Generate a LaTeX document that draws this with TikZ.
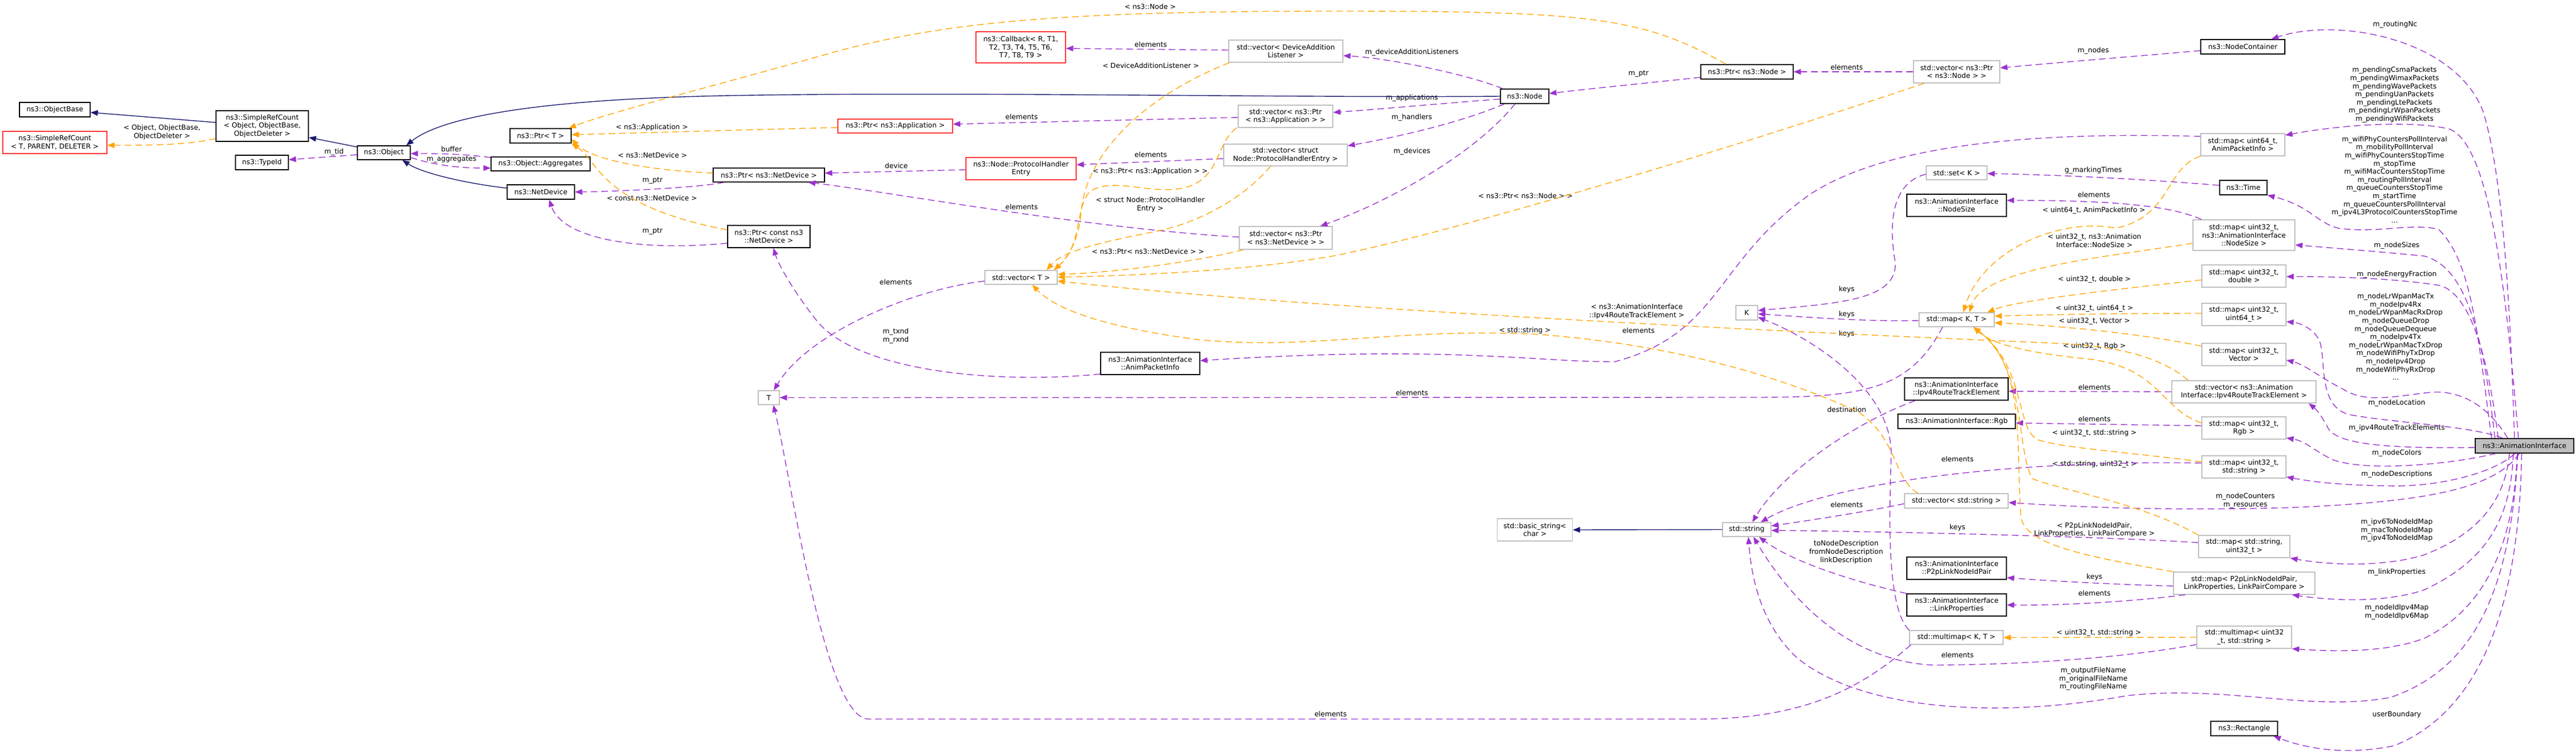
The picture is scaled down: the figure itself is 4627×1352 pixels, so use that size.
\documentclass[tikz,border=0pt]{standalone}
\usepackage{fontspec}
\setmainfont{DejaVu Sans}
\usetikzlibrary{arrows.meta}
\definecolor{navyc}{HTML}{191970}
\definecolor{purc}{HTML}{9A32CD}
\definecolor{orac}{HTML}{FFA500}
\definecolor{greyc}{HTML}{BFBFBF}
\definecolor{redc}{HTML}{FF3333}
\newcommand\nfnt{\fontsize{12.5}{14.6}\selectfont}
\newcommand\bx[6]{\node[#1, minimum width=#4pt, minimum height=#5pt] (#2) at (#3) {#6};}
\newcommand\lb[3]{\node[lbl] (#1) at (#2) {#3};}
\tikzset{
  nd/.style={draw, line width=1.4pt, inner sep=0pt, align=center, font=\nfnt},
  docbox/.style={nd, draw=black},
  extbox/.style={nd, draw=greyc},
  undocbox/.style={nd, draw=redc},
  mainbox/.style={nd, draw=black, fill=greyc},
  lbl/.style={inner sep=0pt, align=center, font=\nfnt},
  inh/.style={draw=navyc, line width=1.4pt, -{Triangle[length=13pt,width=10pt]}},
  usee/.style={draw=purc, line width=1.4pt, dash pattern=on 12pt off 7pt, -{Triangle[length=13pt,width=10pt]}},
  tpl/.style={draw=orac, line width=1.4pt, dash pattern=on 12pt off 7pt, -{Triangle[length=13pt,width=10pt]}}
}
\begin{document}
\begin{tikzpicture}[x=1pt,y=-1pt]
\fill[white] (0,0) rectangle (4627,1352);
\useasboundingbox (0,0) rectangle (4627,1352);
% ---------------- nodes
\bx{docbox}{objbase}{98.5,197}{127}{26}{ns3::ObjectBase}
\bx{undocbox}{srcT}{98.5,256}{187}{40}{ns3::SimpleRefCount\\< T, PARENT, DELETER >}
\bx{docbox}{srcO}{471,226.5}{166}{55}{ns3::SimpleRefCount\\< Object, ObjectBase,\\ObjectDeleter >}
\bx{docbox}{typeid}{470.5,292}{95}{26}{ns3::TypeId}
\bx{docbox}{object}{689.5,274.5}{95}{25}{ns3::Object}
\bx{docbox}{ptrT}{971,244}{110}{26}{ns3::Ptr< T >}
\bx{docbox}{aggr}{971,294.5}{178}{25}{ns3::Object::Aggregates}
\bx{docbox}{netdev}{971.5,345}{121}{26}{ns3::NetDevice}
\bx{docbox}{ptrnd}{1381,314.5}{200}{25}{ns3::Ptr< ns3::NetDevice >}
\bx{docbox}{ptrcnd}{1381,425}{148}{40}{ns3::Ptr< const ns3\\::NetDevice >}
\bx{undocbox}{ptrapp}{1608,226.5}{206}{25}{ns3::Ptr< ns3::Application >}
\bx{undocbox}{callback}{1833.5,85}{161}{56}{ns3::Callback< R, T1,\\T2, T3, T4, T5, T6,\\T7, T8, T9 >}
\bx{undocbox}{phe}{1834,303}{198}{40}{ns3::Node::ProtocolHandler\\Entry}
\bx{extbox}{vecT}{1834,498.5}{130}{25}{std::vector< T >}
\bx{extbox}{tnode}{1381,714.5}{38}{25}{T}
\bx{docbox}{api}{2066,653}{178}{40}{ns3::AnimationInterface\\::AnimPacketInfo}
\bx{extbox}{vecdal}{2309.5,92}{205}{40}{std::vector< DeviceAddition\\Listener >}
\bx{extbox}{vecapp}{2309,209}{170}{40}{std::vector< ns3::Ptr\\< ns3::Application > >}
\bx{extbox}{vecphe}{2309,278.5}{222}{39}{std::vector< struct\\Node::ProtocolHandlerEntry >}
\bx{extbox}{vecnd}{2309.5,427.5}{167}{41}{std::vector< ns3::Ptr\\< ns3::NetDevice > >}
\bx{docbox}{nnode}{2738.5,173}{87}{26}{ns3::Node}
\bx{docbox}{ptrnode}{3138,129}{166}{26}{ns3::Ptr< ns3::Node >}
\bx{extbox}{vecnode}{3514.5,129}{155}{40}{std::vector< ns3::Ptr\\< ns3::Node > >}
\bx{extbox}{setk}{3514.5,310.5}{109}{25}{std::set< K >}
\bx{docbox}{nodesize}{3514.5,369}{179}{40}{ns3::AnimationInterface\\::NodeSize}
\bx{extbox}{mapKT}{3514.5,574.5}{135}{25}{std::map< K, T >}
\bx{extbox}{knode}{3137.5,562}{39}{26}{K}
\bx{docbox}{ipv4rte}{3514,699}{186}{40}{ns3::AnimationInterface\\::Ipv4RouteTrackElement}
\bx{docbox}{rgb}{3514.5,757}{211}{26}{ns3::AnimationInterface::Rgb}
\bx{extbox}{vecstr}{3514,900}{186}{26}{std::vector< std::string >}
\bx{extbox}{strn}{3137.5,951.5}{87}{25}{std::string}
\bx{extbox}{basicstr}{2757,952}{135}{40}{std::basic\_string<\\char >}
\bx{docbox}{p2ppair}{3514.5,1021}{179}{40}{ns3::AnimationInterface\\::P2pLinkNodeIdPair}
\bx{docbox}{linkprop}{3514.5,1087}{179}{40}{ns3::AnimationInterface\\::LinkProperties}
\bx{extbox}{multimapKT}{3514,1145.5}{168}{25}{std::multimap< K, T >}
\bx{docbox}{nodecont}{4028.5,84}{151}{26}{ns3::NodeContainer}
\bx{extbox}{map64}{4028.5,260}{151}{40}{std::map< uint64\_t,\\AnimPacketInfo >}
\bx{docbox}{tim}{4029.5,337}{85}{26}{ns3::Time}
\bx{extbox}{mapNS}{4030.5,422.5}{183}{55}{std::map< uint32\_t,\\ns3::AnimationInterface\\::NodeSize >}
\bx{extbox}{mapdbl}{4030.5,496}{151}{40}{std::map< uint32\_t,\\double >}
\bx{extbox}{map64b}{4030.5,565}{151}{40}{std::map< uint32\_t,\\uint64\_t >}
\bx{extbox}{mapvec}{4030.5,637}{151}{40}{std::map< uint32\_t,\\Vector >}
\bx{extbox}{vecrte}{4030.5,704}{259}{40}{std::vector< ns3::Animation\\Interface::Ipv4RouteTrackElement >}
\bx{extbox}{maprgb}{4030.5,769}{151}{40}{std::map< uint32\_t,\\Rgb >}
\bx{extbox}{mapstr}{4030.5,839}{151}{40}{std::map< uint32\_t,\\std::string >}
\bx{extbox}{mapstru}{4031,982}{164}{40}{std::map< std::string,\\uint32\_t >}
\bx{extbox}{mapp2p}{4031,1048}{254}{40}{std::map< P2pLinkNodeIdPair,\\LinkProperties, LinkPairCompare >}
\bx{extbox}{mmapstr}{4031,1145}{170}{40}{std::multimap< uint32\\\_t, std::string >}
\bx{docbox}{rect}{4031,1309}{120}{26}{ns3::Rectangle}
\bx{mainbox}{ai}{4534.5,801}{177}{26}{ns3::AnimationInterface}
% ---------------- labels
\lb{l1}{291,237.5}{< Object, ObjectBase,\\ObjectDeleter >}
\lb{l2}{600,273}{m\_tid}
\lb{l3}{811,268}{buffer}
\lb{l4}{811,287}{m\_aggregates}
\lb{l5}{1171,229}{< ns3::Application >}
\lb{l6}{1172,279}{< ns3::NetDevice >}
\lb{l7}{1172,325}{m\_ptr}
\lb{l8}{1171,356}{< const ns3::NetDevice >}
\lb{l9}{1172,416}{m\_ptr}
\lb{l10}{2066,12}{< ns3::Node >}
\lb{l11}{2067,80}{elements}
\lb{l12}{2067,118}{< DeviceAdditionListener >}
\lb{l13}{1835,210}{elements}
\lb{l14}{2067,278}{elements}
\lb{l15}{1610,298}{device}
\lb{l16}{2066,308}{< ns3::Ptr< ns3::Application > >}
\lb{l17}{2066,367.5}{< struct Node::ProtocolHandler\\Entry >}
\lb{l18}{1835,372}{elements}
\lb{l19}{2062,452}{< ns3::Ptr< ns3::NetDevice > >}
\lb{l20}{1609,507}{elements}
\lb{l21}{1609,603.5}{m\_txnd\\m\_rxnd}
\lb{l22}{2536,94}{m\_deviceAdditionListeners}
\lb{l23}{2536,176}{m\_applications}
\lb{l24}{2536,211}{m\_handlers}
\lb{l25}{2536,272}{m\_devices}
\lb{l26}{2943,133}{m\_ptr}
\lb{l27}{2740,352}{< ns3::Ptr< ns3::Node > >}
\lb{l28}{3317,121}{elements}
\lb{l29}{3760,91}{m\_nodes}
\lb{l30}{3760,306}{g\_markingTimes}
\lb{l31}{3761,350}{elements}
\lb{l32}{3761,378}{< uint64\_t, AnimPacketInfo >}
\lb{l33}{3762,432.5}{< uint32\_t, ns3::Animation\\Interface::NodeSize >}
\lb{l34}{3762,502}{< uint32\_t, double >}
\lb{l35}{3762,554}{< uint32\_t, uint64\_t >}
\lb{l36}{3762,577}{< uint32\_t, Vector >}
\lb{l37}{3762,622}{< uint32\_t, Rgb >}
\lb{l38}{3762,696}{elements}
\lb{l39}{3762,753}{elements}
\lb{l40}{3762,778}{< uint32\_t, std::string >}
\lb{l41}{3516,825}{elements}
\lb{l42}{3762,834}{< std::string, uint32\_t >}
\lb{l43}{3317,520}{keys}
\lb{l44}{3317,565}{keys}
\lb{l45}{3317,600}{keys}
\lb{l46}{2940,559.5}{< ns3::AnimationInterface\\::Ipv4RouteTrackElement >}
\lb{l47}{2943,594}{elements}
\lb{l48}{2739,594}{< std::string >}
\lb{l49}{3317,736}{destination}
\lb{l50}{2536,706}{elements}
\lb{l51}{3317,907}{elements}
\lb{l52}{3516,948}{keys}
\lb{l53}{3762,952}{< P2pLinkNodeIdPair,\\LinkProperties, LinkPairCompare >}
\lb{l54}{3316,992}{toNodeDescription\\fromNodeDescription\\linkDescription}
\lb{l55}{3762,1037}{keys}
\lb{l56}{3762,1066}{elements}
\lb{l57}{3770,1137}{< uint32\_t, std::string >}
\lb{l58}{3516,1177}{elements}
\lb{l59}{3760,1220}{m\_outputFileName\\m\_originalFileName\\m\_routingFileName}
\lb{l60}{2390,1283}{elements}
\lb{l61}{4302,44}{m\_routingNc}
\lb{l62}{4301,170.5}{m\_pendingCsmaPackets\\m\_pendingWimaxPackets\\m\_pendingWavePackets\\m\_pendingUanPackets\\m\_pendingLtePackets\\m\_pendingLrWpanPackets\\m\_pendingWifiPackets}
\lb{l63}{4301,322.5}{m\_wifiPhyCountersPollInterval\\m\_mobilityPollInterval\\m\_wifiPhyCountersStopTime\\m\_stopTime\\m\_wifiMacCountersStopTime\\m\_routingPollInterval\\m\_queueCountersStopTime\\m\_startTime\\m\_queueCountersPollInterval\\m\_ipv4L3ProtocolCountersStopTime\\...}
\lb{l64}{4305,441}{m\_nodeSizes}
\lb{l65}{4305,493}{m\_nodeEnergyFraction}
\lb{l66}{4303,605}{m\_nodeLrWpanMacTx\\m\_nodeIpv4Rx\\m\_nodeLrWpanMacRxDrop\\m\_nodeQueueDrop\\m\_nodeQueueDequeue\\m\_nodeIpv4Tx\\m\_nodeLrWpanMacTxDrop\\m\_nodeWifiPhyTxDrop\\m\_nodeIpv4Drop\\m\_nodeWifiPhyRxDrop\\...}
\lb{l67}{4305,724}{m\_nodeLocation}
\lb{l68}{4305,769}{m\_ipv4RouteTrackElements}
\lb{l69}{4305,814}{m\_nodeColors}
\lb{l70}{4305,852}{m\_nodeDescriptions}
\lb{l71}{4033,899.5}{m\_nodeCounters\\m\_resources}
\lb{l72}{4305,953}{m\_ipv6ToNodeIdMap\\m\_macToNodeIdMap\\m\_ipv4ToNodeIdMap}
\lb{l73}{4305,1028}{m\_linkProperties}
\lb{l74}{4305,1100}{m\_nodeIdIpv4Map\\m\_nodeIdIpv6Map}
\lb{l75}{4305,1284}{userBoundary}
% ---------------- inheritance
\draw[inh] (srcO.west |- 0,220) -- (objbase.east |- 0,202);
\draw[inh] (object.west |- 0,264) -- (srcO.east |- 0,247);
\draw[inh] (nnode.west) .. controls (2300,176) and (1700,164) .. (1300,172) .. controls (1000,178) and (800,205) .. ([xshift=-8pt]object.north east);
\draw[inh] (netdev.west |- 0,338) .. controls (840,330) and (760,312) .. ([xshift=-15pt]object.south east);
\draw[inh] (strn.west) -- (basicstr.east);
% ---------------- usage
\draw[usee] (object.west |- 0,278) -- (typeid.east |- 0,287);
\draw[usee] (aggr.west |- 0,283) .. controls (830,276) and (780,276) .. (object.east |- 0,276);
\draw[usee] (object.east |- 0,283) .. controls (790,300) and (840,302) .. (aggr.west |- 0,302);
\draw[usee] ([xshift=20pt]ptrnd.south west) .. controls (1250,338) and (1100,344) .. (netdev.east);
\draw[usee] (ptrcnd.west |- 0,437) .. controls (1150,452) and (1010,430) .. ([xshift=15pt]netdev.south);
\draw[usee] (phe.west |- 0,305) -- (ptrnd.east |- 0,311);
\draw[usee] (vecnd.west |- 0,426) .. controls (1950,410) and (1600,345) .. ([xshift=-30pt]ptrnd.south east);
\draw[usee] (vecdal.west |- 0,90) -- (callback.east |- 0,87);
\draw[usee] (vecapp.west |- 0,211) -- (ptrapp.east |- 0,223);
\draw[usee] (vecphe.west |- 0,285) -- (phe.east |- 0,296);
\draw[usee] ([xshift=5pt]nnode.north west) .. controls (2640,135) and (2500,105) .. (vecdal.east |- 0,100);
\draw[usee] (nnode.west |- 0,178) .. controls (2600,185) and (2480,196) .. (vecapp.east |- 0,202);
\draw[usee] ([xshift=8pt]nnode.south west) .. controls (2620,222) and (2500,248) .. (vecphe.east |- 0,262);
\draw[usee] ([xshift=27pt]nnode.south west) .. controls (2650,275) and (2500,360) .. ([xshift=62pt]vecnd.north);
\draw[usee] (ptrnode.west |- 0,139) .. controls (2950,150) and (2850,160) .. (nnode.east |- 0,168);
\draw[usee] (vecnode.west) -- (ptrnode.east);
\draw[usee] (nodecont.west |- 0,91) .. controls (3850,100) and (3700,112) .. (vecnode.east |- 0,122);
\draw[usee] (tim.west |- 0,333) .. controls (3850,322) and (3700,314) .. (setk.east |- 0,312);
\draw[usee] (setk.west |- 0,313) .. controls (3390,330) and (3395,420) .. (3404,470) .. controls (3410,540) and (3300,545) .. (knode.east |- 0,558);
\draw[usee] (mapKT.west |- 0,576) .. controls (3350,578) and (3250,570) .. (knode.east |- 0,564);
\draw[usee] (multimapKT.north west) .. controls (3385,1090) and (3395,900) .. (3397,813) .. controls (3395,700) and (3260,610) .. (knode.east |- 0,570);
\draw[usee] ([xshift=16pt]mapNS.north west) .. controls (3900,370) and (3800,360) .. (nodesize.east |- 0,360);
\draw[usee] (map64.west |- 0,245) .. controls (3700,238) and (3400,250) .. (3250,350) .. controls (3080,470) and (3090,600) .. (2900,650) .. controls (2750,650) and (2600,620) .. (api.east |- 0,648);
\draw[usee] ([xshift=20pt]ipv4rte.south west) .. controls (3330,760) and (3200,850) .. ([xshift=10pt]strn.north);
\draw[usee] (mapstr.west |- 0,832) .. controls (3600,826) and (3280,870) .. ([xshift=25pt]strn.north);
\draw[usee] (vecstr.west |- 0,905) .. controls (3350,920) and (3250,935) .. (strn.east |- 0,945);
\draw[usee] (mapstru.west |- 0,975) .. controls (3800,965) and (3400,955) .. (strn.east |- 0,953);
\draw[usee] (linkprop.north west) .. controls (3330,1045) and (3220,1010) .. ([xshift=22pt]strn.south);
\draw[usee] ([xshift=-12pt]ai.south) .. controls (4510,1050) and (4450,1200) .. (4294,1253) .. controls (4150,1280) and (4000,1230) .. (3820,1250) .. controls (3600,1290) and (3350,1280) .. (3229,1183) .. controls (3160,1120) and (3145,1030) .. ([xshift=3pt]strn.south);
\draw[usee] (mmapstr.west |- 0,1158) .. controls (3800,1185) and (3600,1195) .. (3470,1195) .. controls (3300,1185) and (3200,1050) .. ([xshift=12pt]strn.south);
\draw[usee] ([xshift=43pt]mapKT.south west) .. controls (3430,700) and (3350,714) .. (3150,714) -- (tnode.east);
\draw[usee] ([xshift=3pt]multimapKT.south west) .. controls (3350,1230) and (3250,1292) .. (3050,1292) -- (1560,1292) .. controls (1480,1292) and (1420,850) .. ([xshift=8pt]tnode.south);
\draw[usee] (vecT.west |- 0,505) .. controls (1636,520) and (1450,600) .. ([xshift=9pt]tnode.north);
\draw[usee] (api.west |- 0,672) .. controls (1800,690) and (1550,670) .. (1470,580) .. controls (1430,530) and (1400,480) .. ([xshift=8pt]ptrcnd.south);
\draw[usee] (vecrte.west) -- (ipv4rte.east |- 0,703);
\draw[usee] (maprgb.west |- 0,765) -- (rgb.east |- 0,760);
\draw[usee] (mapp2p.west |- 0,1053) .. controls (3800,1050) and (3700,1045) .. (p2ppair.east |- 0,1038);
\draw[usee] ([xshift=22pt]mapp2p.south west) .. controls (3819,1082) and (3700,1088) .. (linkprop.east);
% AnimationInterface members
\draw[usee] ([xshift=-18pt]ai.north) .. controls (4510,600) and (4500,330) .. (4460,200) .. controls (4410,70) and (4200,30) .. ([xshift=-25pt]nodecont.north east);
\draw[usee] ([xshift=-11pt]ai.north) .. controls (4500,500) and (4470,260) .. (4400,232) .. controls (4330,215) and (4200,225) .. (map64.east |- 0,243);
\draw[usee] ([xshift=30pt]ai.north west) .. controls (4450,600) and (4440,470) .. (4380,412) .. controls (4330,400) and (4270,420) .. (4200,410) .. controls (4160,400) and (4150,370) .. (tim.south east);
\draw[usee] ([xshift=36pt]ai.north west) .. controls (4460,600) and (4430,480) .. (4354,460) .. controls (4250,450) and (4180,445) .. (mapNS.east |- 0,440);
\draw[usee] ([xshift=42pt]ai.north west) .. controls (4470,650) and (4440,530) .. (4383,513) .. controls (4300,500) and (4200,497) .. (mapdbl.east |- 0,497);
\draw[usee] ([xshift=50pt]ai.north west) .. controls (4440,765) and (4300,760) .. (4220,745) .. controls (4160,730) and (4180,640) .. (4165,610) .. controls (4155,590) and (4130,580) .. (map64b.east |- 0,578);
\draw[usee] ([xshift=59pt]ai.north west) .. controls (4470,730) and (4420,700) .. (4365,705) .. controls (4300,712) and (4250,725) .. (4210,700) .. controls (4170,680) and (4140,655) .. (mapvec.east |- 0,647);
\draw[usee] (ai.west |- 0,804) .. controls (4300,806) and (4200,800) .. (4182,770) .. controls (4172,750) and (4160,735) .. ([xshift=-14pt]vecrte.south east);
\draw[usee] ([xshift=38pt]ai.south west) .. controls (4400,835) and (4250,848) .. (4190,826) .. controls (4160,812) and (4140,792) .. (maprgb.east |- 0,787);
\draw[usee] ([xshift=72pt]ai.south west) .. controls (4480,850) and (4380,875) .. (4294,873) .. controls (4200,872) and (4150,865) .. (mapstr.east |- 0,857);
\draw[usee] ([xshift=80pt]ai.south west) .. controls (4480,880) and (4350,902) .. (4116,912) .. controls (3900,918) and (3750,912) .. (vecstr.east |- 0,903);
\draw[usee] ([xshift=62pt]ai.south west) .. controls (4500,900) and (4450,960) .. (4354,997) .. controls (4280,1020) and (4180,1015) .. (mapstru.south east);
\draw[usee] ([xshift=69pt]ai.south west) .. controls (4510,950) and (4450,1015) .. (4354,1060) .. controls (4280,1085) and (4180,1078) .. ([xshift=-42pt]mapp2p.south east);
\draw[usee] ([xshift=76pt]ai.south west) .. controls (4515,1000) and (4450,1100) .. (4354,1147) .. controls (4280,1175) and (4180,1170) .. (mmapstr.south east);
\draw[usee] ([xshift=84pt]ai.south west) .. controls (4525,1100) and (4450,1280) .. (4300,1340) .. controls (4200,1360) and (4130,1340) .. ([xshift=-8pt]rect.south east);
% ---------------- template instances
\draw[tpl] (srcO.west |- 0,249) .. controls (330,262) and (250,261) .. (srcT.east |- 0,261);
\draw[tpl] (ptrapp.west |- 0,229) -- (ptrT.east |- 0,242);
\draw[tpl] ([xshift=-38pt]ptrnode.north) .. controls (2950,30) and (2850,20) .. (2400,20) .. controls (1900,20) and (1700,40) .. (1500,93) .. controls (1300,150) and (1100,200) .. ([xshift=-5pt]ptrT.north east);
\draw[tpl] (ptrnd.west |- 0,311) .. controls (1150,305) and (1060,285) .. (ptrT.east |- 0,250);
\draw[tpl] (ptrcnd.west |- 0,413) .. controls (1080,370) and (1075,290) .. (ptrT.south east);
\draw[tpl] ([xshift=2pt]vecdal.south west) .. controls (2050,175) and (1950,280) .. (1942,380) .. controls (1938,440) and (1910,470) .. ([xshift=59pt]vecT.north);
\draw[tpl] ([xshift=-2pt]vecapp.south west) .. controls (2180,260) and (2195,330) .. (2112,340) .. controls (2050,345) and (2000,320) .. (1959,343) .. controls (1930,370) and (1945,440) .. ([xshift=59pt]vecT.north);
\draw[tpl] ([xshift=85pt]vecphe.south west) .. controls (2230,360) and (2150,400) .. (2080,415) .. controls (1980,435) and (1910,450) .. ([xshift=46pt]vecT.north);
\draw[tpl] ([xshift=8pt]vecnd.south west) .. controls (2150,470) and (2000,490) .. (vecT.east |- 0,493);
\draw[tpl] ([xshift=20pt]vecnode.south west) .. controls (3100,270) and (2600,420) .. (2394,460) .. controls (2250,485) and (2050,495) .. (vecT.east |- 0,498);
\draw[tpl] ([xshift=30pt]vecrte.north west) .. controls (3880,640) and (3800,622) .. (3700,617) .. controls (3300,600) and (2400,560) .. (vecT.east |- 0,505);
\draw[tpl] ([xshift=25pt]vecstr.north west) .. controls (3400,860) and (3410,790) .. (3338,740) .. controls (3250,700) and (3050,620) .. (2750,600) .. controls (2500,590) and (2350,630) .. (2150,610) .. controls (2000,590) and (1900,560) .. ([xshift=20pt]vecT.south);
\draw[tpl] (map64.south west) .. controls (3890,300) and (3900,390) .. (3800,410) .. controls (3700,390) and (3560,450) .. ([xshift=12pt]mapKT.north);
\draw[tpl] (mapNS.west |- 0,437) .. controls (3800,460) and (3560,480) .. ([xshift=23pt]mapKT.north);
\draw[tpl] (mapdbl.west |- 0,503) .. controls (3800,520) and (3620,540) .. ([xshift=55pt]mapKT.north);
\draw[tpl] (map64b.west |- 0,563) .. controls (3800,563) and (3650,566) .. (mapKT.east |- 0,568);
\draw[tpl] (mapvec.west |- 0,622) .. controls (3850,600) and (3700,585) .. (mapKT.east |- 0,580);
\draw[tpl] (maprgb.west |- 0,760) .. controls (3880,735) and (3880,660) .. (3750,645) .. controls (3650,635) and (3580,620) .. ([xshift=30pt]mapKT.south);
\draw[tpl] (mapstr.west |- 0,830) .. controls (3850,815) and (3700,805) .. (3660,790) .. controls (3620,770) and (3640,660) .. ([xshift=30pt]mapKT.south);
\draw[tpl] (mapstru.north west) .. controls (3850,905) and (3700,880) .. (3650,860) .. controls (3620,800) and (3640,660) .. ([xshift=30pt]mapKT.south);
\draw[tpl] (mapp2p.north west) .. controls (3750,1000) and (3640,980) .. (3630,930) .. controls (3620,800) and (3640,660) .. ([xshift=30pt]mapKT.south);
\draw[tpl] (mmapstr.west |- 0,1145) -- (multimapKT.east);
\end{tikzpicture}
\end{document}
